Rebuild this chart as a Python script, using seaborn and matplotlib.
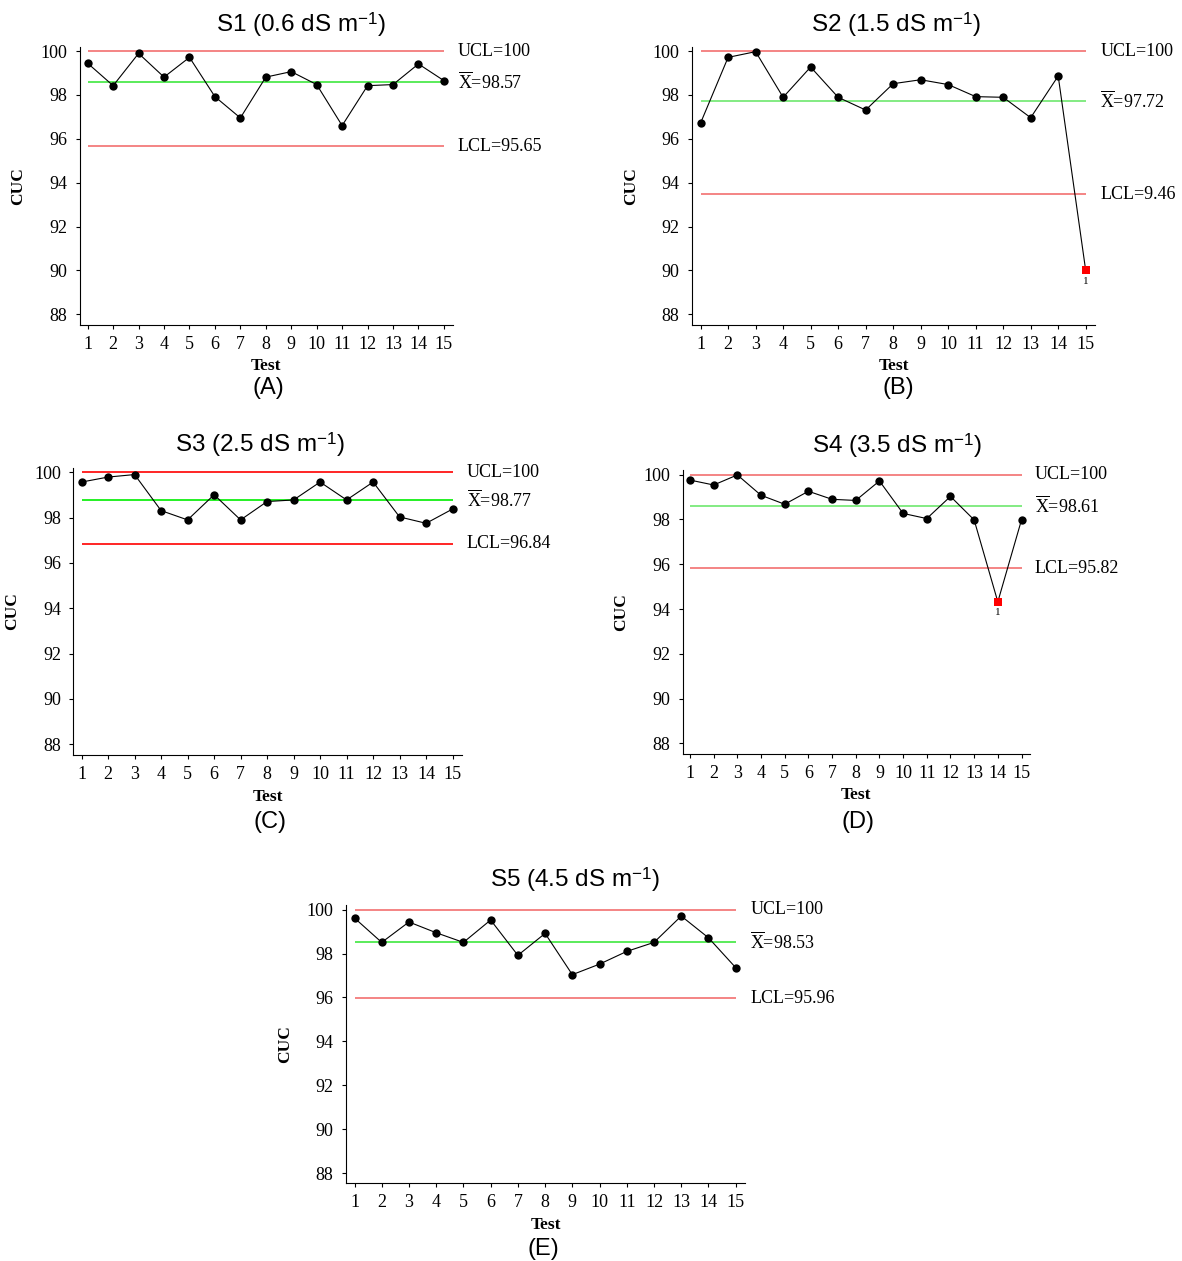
import numpy as np
import pandas as pd
import seaborn as sns
import matplotlib
matplotlib.use('Agg')
from matplotlib import pyplot as plt

# ---- data ----
tests = list(range(1, 16))

cuc_s1 = [99.44, 98.42, 99.89, 98.81, 99.71, 97.92, 96.95, 98.81, 99.06, 98.47, 96.60, 98.42, 98.47, 99.41, 98.65]
cuc_s2 = [96.72, 99.71, 99.97, 97.89, 99.27, 97.89, 97.31, 98.51, 98.69, 98.47, 97.92, 97.89, 96.96, 98.86, 90.00]
cuc_s3 = [99.57, 99.79, 99.90, 98.31, 97.90, 99.01, 97.90, 98.71, 98.78, 99.57, 98.78, 99.57, 98.03, 97.75, 98.38]
cuc_s4 = [99.76, 99.54, 99.99, 99.08, 98.68, 99.26, 98.90, 98.85, 99.72, 98.27, 98.04, 99.03, 97.98, 94.32, 97.98]
cuc_s5 = [99.62, 98.51, 99.44, 98.95, 98.51, 99.53, 97.92, 98.92, 97.04, 97.52, 98.10, 98.51, 99.71, 98.72, 97.36]

series = ['S1', 'S2', 'S3', 'S4', 'S5']
salinity = ['0.6', '1.5', '2.5', '3.5', '4.5']
panel_tags = ['(A)', '(B)', '(C)', '(D)', '(E)']

ucl = [100, 100, 100, 100, 100]
center = [98.57, 97.72, 98.77, 98.61, 98.53]
lcl = [95.65, 93.46, 96.84, 95.82, 95.96]
lcl_text = ['95.65', '9.46', '96.84', '95.82', '95.96']

# tests flagged as out of control (test 1 rule)
signals = {'S2': [15], 'S4': [14]}

yticks = [88, 90, 92, 94, 96, 98, 100]

df = pd.DataFrame({
    'Test': tests * 5,
    'CUC': cuc_s1 + cuc_s2 + cuc_s3 + cuc_s4 + cuc_s5,
    'Series': [s for s in series for _ in tests],
})
df['Signal'] = [t in signals.get(s, []) for s, t in zip(df['Series'], df['Test'])]

# ---- style ----
sns.set_theme(style='ticks')
plt.rcParams['font.family'] = ['Liberation Serif', 'DejaVu Serif']
plt.rcParams['mathtext.fontset'] = 'custom'
plt.rcParams['mathtext.rm'] = 'Liberation Serif'
plt.rcParams['mathtext.it'] = 'Liberation Serif:italic'
plt.rcParams['mathtext.sf'] = 'Liberation Sans'
for k in ['text.color', 'axes.labelcolor', 'xtick.color', 'ytick.color', 'axes.edgecolor']:
    plt.rcParams[k] = 'black'

W, H = 1182, 1261
fig = plt.figure(figsize=(W / 100, H / 100), dpi=100)

XLO, XHI = 0.69, 15.35
YLO, YHI = 87.53, 100.2

# pixel positions of tick 1, tick 15, y=100, y=88 for each panel
tick_px = [
    (87.7, 443.9, 51.0, 314.3),
    (700.6, 1085.7, 51.0, 314.3),
    (81.6, 452.6, 472.3, 744.3),
    (690.0, 1021.5, 474.7, 743.3),
    (354.5, 735.7, 909.7, 1173.0),
]
title_px = [(301, 25), (896, 25), (260, 445), (897, 446), (575, 880)]
tag_px = [(268, 388), (898, 388), (270, 822), (858, 822), (543, 1249)]

red_c = ['#f27070', '#f27070', '#ff0000', '#f27070', '#f27070']
green_c = ['#3ee83e', '#6ee86e', '#00ee00', '#6ee86e', '#3ee83e']


def axes_rect(x1, x15, y100, y88):
    ppx = (x15 - x1) / 14
    ppy = (y88 - y100) / 12
    left = x1 - (1 - XLO) * ppx
    right = x15 + (XHI - 15) * ppx
    top = y100 - (YHI - 100) * ppy
    bottom = y88 + (88 - YLO) * ppy
    return [left / W, 1 - bottom / H, (right - left) / W, (bottom - top) / H]


for i, s in enumerate(series):
    ax = fig.add_axes(axes_rect(*tick_px[i]))
    d = df[df['Series'] == s]

    ax.hlines([ucl[i], lcl[i]], 1, 15, color=red_c[i], lw=1.2, zorder=1)
    ax.hlines(center[i], 1, 15, color=green_c[i], lw=1.2, zorder=1)

    sns.lineplot(data=d, x='Test', y='CUC', color='black', lw=0.8,
                 errorbar=None, ax=ax, zorder=2)
    sns.scatterplot(data=d[~d['Signal']], x='Test', y='CUC', color='black',
                    s=36, linewidth=0, ax=ax, zorder=3)
    bad = d[d['Signal']]
    if len(bad):
        sns.scatterplot(data=bad, x='Test', y='CUC', color='red', marker='s',
                        s=36, linewidth=0, ax=ax, zorder=3)
        for t, v in zip(bad['Test'], bad['CUC']):
            ax.annotate('1', (t, v), xytext=(0, -11), textcoords='offset pixels',
                        ha='center', va='center', fontsize=8)

    # control limit labels
    lab_kw = dict(xycoords=('axes fraction', 'data'), xytext=(5, 0),
                  textcoords='offset pixels', ha='left', va='center',
                  fontsize=13, annotation_clip=False)
    ax.annotate('UCL=%d' % ucl[i], (1, ucl[i]), **lab_kw)
    ax.annotate(r'$\overline{\mathrm{X}}$=%.2f' % center[i], (1, center[i]), **lab_kw)
    ax.annotate('LCL=' + lcl_text[i], (1, lcl[i]), **lab_kw)

    ax.set_xlim(XLO, XHI)
    ax.set_ylim(YLO, YHI)
    ax.set_xticks(tests)
    ax.set_yticks(yticks)
    ax.tick_params(direction='out', length=3, width=0.8, labelsize=13,
                   color='black', labelcolor='black', pad=5)
    ax.tick_params(axis='y', pad=6)
    for sp in ['left', 'bottom']:
        ax.spines[sp].set_linewidth(0.8)
        ax.spines[sp].set_color('black')
    sns.despine(ax=ax)

    ax.set_xlabel('Test', fontsize=12.5, fontweight='bold', labelpad=4)
    ax.set_ylabel('CUC', fontsize=12.5, fontweight='bold', labelpad=10)

    tx, ty = title_px[i]
    fig.text(tx / W, 1 - ty / H, '%s (%s dS m$^{\\mathsf{-1}}$)' % (s, salinity[i]),
             ha='center', va='center', fontsize=17.5, family='Liberation Sans')
    gx, gy = tag_px[i]
    fig.text(gx / W, 1 - gy / H, panel_tags[i], ha='center', va='center',
             fontsize=17, family='Liberation Sans')

fig.savefig('out.png', dpi=100, facecolor='white')
